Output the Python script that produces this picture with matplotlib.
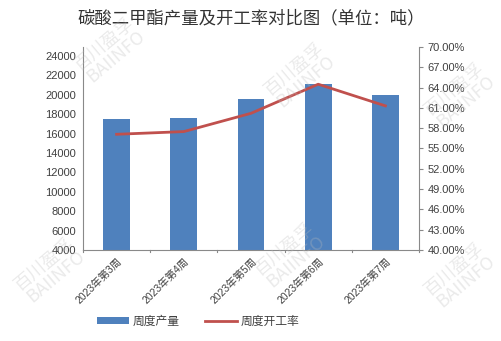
import matplotlib
matplotlib.use("Agg")
import matplotlib.pyplot as plt
from matplotlib.ticker import FuncFormatter

plt.rcParams['font.family'] = ['Liberation Sans', 'Noto Sans CJK SC', 'DejaVu Sans']

weeks = ["2023年第3周", "2023年第4周", "2023年第5周", "2023年第6周", "2023年第7周"]
output_t = [17500, 17600, 19600, 21100, 20000]
rate_pct = [57.1, 57.5, 60.2, 64.5, 61.3]

left_ticks = list(range(4000, 24001, 2000))
right_ticks = [40, 43, 46, 49, 52, 55, 58, 61, 64, 67, 70]

bar_color = "#4F81BD"
line_color = "#C0504D"
axis_color = "#898989"
text_color = "#404040"

fig = plt.figure(figsize=(5.02, 3.41), dpi=100)
ax = fig.add_axes([83 / 502, 1 - 250 / 341, (419 - 83) / 502, (250 - 47) / 341])
ax2 = ax.twinx()

x = list(range(len(weeks)))
ax.bar(x, output_t, width=0.4, color=bar_color, zorder=2, label="周度产量")
ax.set_xlim(-0.5, len(weeks) - 0.5)
ax.set_ylim(4000, 24930)
ax.set_yticks(left_ticks)
ax.tick_params(axis='y', length=0, labelsize=8, colors=text_color, pad=5)

ax2.plot(x, rate_pct, color=line_color, lw=2, zorder=3, label="周度开工率")
ax2.set_ylim(40, 70)
ax2.set_yticks(right_ticks)
ax2.yaxis.set_major_formatter(FuncFormatter(lambda v, p: f"{v:.2f}%"))
ax2.tick_params(axis='y', length=3, width=0.8, color=axis_color, labelsize=8,
                labelcolor=text_color, pad=3)

ax.set_xticks(x)
ax.set_xticklabels(weeks, rotation=45, ha='right', rotation_mode='anchor',
                   fontsize=7.5, color=text_color)
ax.tick_params(axis='x', length=0, pad=4)
for b in [i - 0.5 for i in range(len(weeks) + 1)]:
    ax.plot([b, b], [4000, 4000 - 250], color=axis_color, lw=0.8, clip_on=False)

for a in (ax, ax2):
    a.spines['top'].set_visible(False)
    for s in ('left', 'right', 'bottom'):
        a.spines[s].set_color(axis_color)
        a.spines[s].set_linewidth(0.8)
ax2.spines['left'].set_visible(False)
ax2.spines['bottom'].set_visible(False)
ax.spines['right'].set_visible(False)

fig.text(0.5, 1 - 18 / 341, "碳酸二甲酯产量及开工率对比图（单位：吨）",
         ha='center', va='center', fontsize=12.5, color="#333333",
         family=['Noto Sans CJK SC'])

h1, l1 = ax.get_legend_handles_labels()
h2, l2 = ax2.get_legend_handles_labels()
fig.legend(h1 + h2, l1 + l2, loc='center', bbox_to_anchor=(0.395, 1 - 322 / 341),
           ncol=2, frameon=False, fontsize=8.5, handlelength=2.7, handleheight=0.5,
           columnspacing=2.2, handletextpad=0.3, labelcolor=text_color)

# watermarks
marks = [(110, 50), (300, 75), (460, 95), (50, 270), (290, 255), (460, 275)]
for mx, my in marks:
    fig.text(mx / 502, 1 - my / 341, "百川盈孚\nBAIINFO", ha='center', va='center',
             rotation=40, fontsize=13, color="#BBBBBB", alpha=0.3,
             family=['Noto Sans CJK SC'], linespacing=0.9, zorder=10)

fig.savefig("out.png", dpi=100, facecolor="white")
